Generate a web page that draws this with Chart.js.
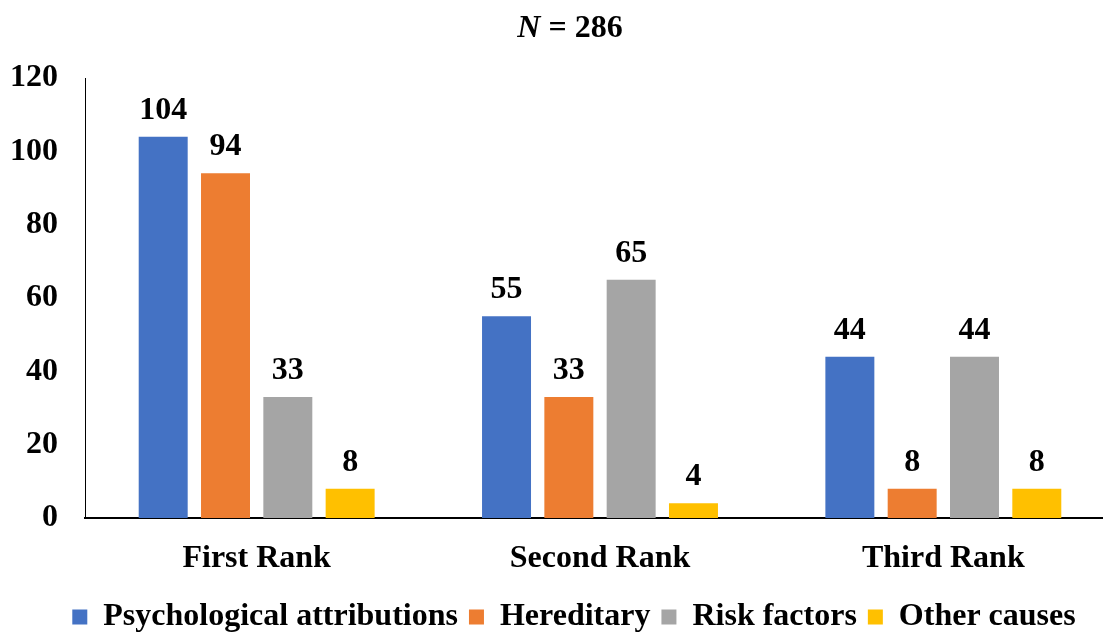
<!DOCTYPE html>
<html>
<head>
<meta charset="utf-8">
<script src="https://cdn.jsdelivr.net/npm/chart.js@4/dist/chart.umd.min.js"></script>
<style>
  html, body { margin: 0; padding: 0; background: #fff; overflow: hidden; }
  #wrap { width: 1103px; height: 632px; overflow: hidden; position: relative; }
  canvas { display: block; }
</style>
</head>
<body>
<div id="wrap"><canvas id="c" width="1140" height="643"></canvas></div>
<script>
// Ranking categories and counts per attribution type
const categories = ['First Rank', 'Second Rank', 'Third Rank'];
const psychological = [104, 55, 44];
const hereditary = [94, 33, 8];
const riskFactors = [33, 65, 44];
const otherCauses = [8, 4, 8];
const yTicks = [0, 20, 40, 60, 80, 100, 120];
const sampleSize = 286;

const FONT = '"Liberation Serif", "Times New Roman", Times, serif';

// Value labels above each bar
const barValues = {
  id: 'barValues',
  afterDatasetsDraw(chart) {
    const ctx = chart.ctx;
    ctx.save();
    ctx.font = 'bold 32px ' + FONT;
    ctx.fillStyle = '#000';
    ctx.textAlign = 'center';
    ctx.textBaseline = 'alphabetic';
    chart.data.datasets.forEach((ds, i) => {
      chart.getDatasetMeta(i).data.forEach((bar, j) => {
        ctx.fillText(String(ds.data[j]), bar.x, bar.y - 18);
      });
    });
    ctx.restore();
  }
};

// Heading "N = 286" with italic N
const heading = {
  id: 'heading',
  afterDraw(chart) {
    const ctx = chart.ctx;
    ctx.save();
    ctx.fillStyle = '#000';
    ctx.textBaseline = 'alphabetic';
    const partA = 'N';
    const partB = ' = ' + sampleSize;
    const fa = 'italic bold 32px ' + FONT;
    const fb = 'bold 32px ' + FONT;
    ctx.font = fa; const wa = ctx.measureText(partA).width;
    ctx.font = fb; const wb = ctx.measureText(partB).width;
    const x0 = chart.width / 2 - (wa + wb) / 2;
    ctx.textAlign = 'left';
    ctx.font = fa; ctx.fillText(partA, x0, 37);
    ctx.font = fb; ctx.fillText(partB, x0 + wa, 37);
    ctx.restore();
  }
};

// Centre the legend row on the whole figure rather than the padded area
const legendShift = {
  id: 'legendShift',
  afterLayout(chart) {
    const lg = chart.legend;
    if (!lg) return;
    const dx = chart.width / 2 + 4 - (lg.left + lg.right) / 2;
    lg.left += dx;
    lg.right += dx;
  }
};

Chart.defaults.font.family = FONT;
Chart.defaults.font.size = 32;
Chart.defaults.font.weight = 'bold';
Chart.defaults.color = '#000';

new Chart(document.getElementById('c'), {
  type: 'bar',
  data: {
    labels: categories,
    datasets: [
      { label: 'Psychological attributions', data: psychological, backgroundColor: '#4472C4' },
      { label: 'Hereditary', data: hereditary, backgroundColor: '#ED7D31' },
      { label: 'Risk factors', data: riskFactors, backgroundColor: '#A5A5A5' },
      { label: 'Other causes', data: otherCauses, backgroundColor: '#FFC000' }
    ]
  },
  options: {
    responsive: false,
    animation: false,
    devicePixelRatio: 1,
    layout: { padding: { top: 78, right: 25, bottom: 0, left: 0 } },
    datasets: {
      bar: { categoryPercentage: 0.726, barPercentage: 0.786 }
    },
    scales: {
      x: {
        grid: { display: false, drawTicks: false },
        border: { display: true, color: '#000', width: 2 },
        ticks: { padding: 22, font: { size: 32, weight: 'bold' }, color: '#000' },
        afterFit(scale) { scale.height = 72; }
      },
      y: {
        min: 0,
        max: 120,
        grid: { display: false, drawTicks: false },
        border: { display: true, color: '#000', width: 1 },
        afterBuildTicks(scale) { scale.ticks = yTicks.map(v => ({ value: v })); },
        ticks: { padding: 27, font: { size: 32, weight: 'bold' }, color: '#000' },
        afterFit(scale) { scale.width = 85; }
      }
    },
    plugins: {
      title: { display: false },
      tooltip: { enabled: false },
      legend: {
        position: 'bottom',
        labels: {
          boxWidth: 15,
          boxHeight: 15,
          padding: 11,
          color: '#000',
          font: { size: 32, weight: 'bold' }
        }
      }
    }
  },
  plugins: [barValues, heading, legendShift]
});
</script>
</body>
</html>
